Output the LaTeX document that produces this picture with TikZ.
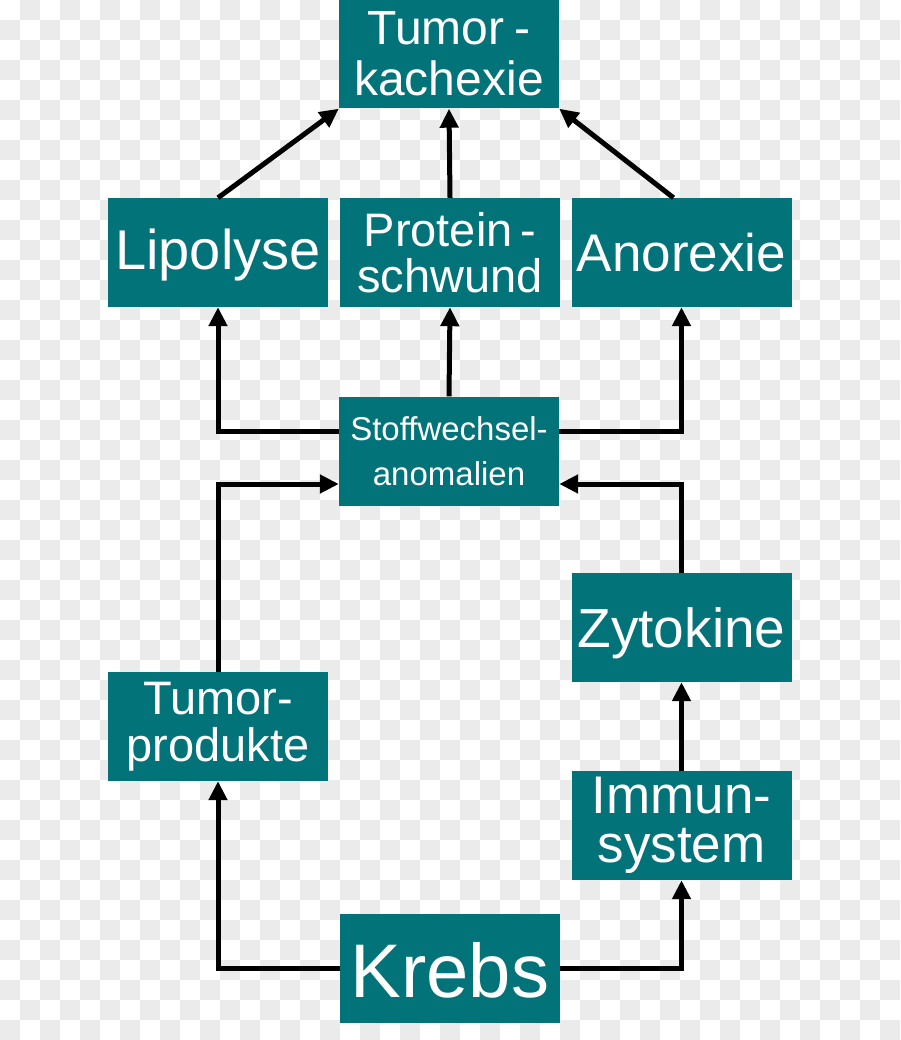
\documentclass[tikz,border=0pt]{standalone}
\usepackage{fontspec}
\setmainfont{Liberation Sans}
\usetikzlibrary{arrows.meta}
\definecolor{teal1}{RGB}{3,115,122}
\definecolor{chk}{RGB}{235,235,235}
\begin{document}
\begin{tikzpicture}[x=1pt,y=-1pt,
  box/.style={fill=teal1, text=white, minimum width=220pt, minimum height=109pt, inner sep=0pt, align=center},
  conn/.style={line width=5pt, -{Triangle[length=19pt,width=18pt]}}]
\useasboundingbox (0,0) rectangle (900,1040);
\fill[white] (0,0) rectangle (900,1040);
\foreach \j in {0,...,51}{\foreach \i in {0,...,44}{\pgfmathtruncatemacro\p{mod(\i+\j,2)}\ifnum\p=1 \fill[chk] (\i*20,\j*20) rectangle ++(20,20);\fi}}
% boxes
\node[box, font=\fontsize{48}{51}\selectfont] (kach) at (449,54) {Tumor\kern10pt-\\kachexie};
\node[box, font=\fontsize{56}{60}\selectfont, text height=45pt, text depth=10pt] (lip) at (218,252.5) {Lipolyse};
\node[box, font=\fontsize{47}{46}\selectfont] (prot) at (450,252.5) {Protein\kern8pt-\\schwund};
\node[box, font=\fontsize{53}{60}\selectfont, text height=49pt, text depth=10pt] (anor) at (681.5,252.5) {Anorexie};
\node[box, font=\fontsize{33}{45}\selectfont] (stoff) at (449,451) {Stoffwechsel-\\anomalien};
\node[box, font=\fontsize{55}{60}\selectfont, text height=49pt, text depth=10pt] (zyt) at (681.5,627.5) {Zytokine};
\node[box, font=\fontsize{47}{47}\selectfont] (tprod) at (218,726.5) {Tumor-\\produkte};
\node[box, font=\fontsize{53}{49}\selectfont] (imm) at (681.5,825.5) {Immun-\\system};
\node[box, font=\fontsize{76}{80}\selectfont, text height=67pt, text depth=10pt] (krebs) at (450,968.5) {Krebs};
% connectors
\draw[conn] (lip.north) -- (kach.south west);
\draw[conn] (prot.north) -- (kach.south);
\draw[conn] ([xshift=-8pt]anor.north) -- (kach.south east);
\draw[conn] ([yshift=20pt]stoff.west) -| (lip.south);
\draw[conn] (stoff.north) -- (prot.south);
\draw[conn] ([yshift=20pt]stoff.east) -| (anor.south);
\draw[conn] (tprod.north) |- ([yshift=-33pt]stoff.west);
\draw[conn] (zyt.north) |- ([yshift=-33pt]stoff.east);
\draw[conn] (imm.north) -- (zyt.south);
\draw[conn] (krebs.west) -| (tprod.south);
\draw[conn] (krebs.east) -| (imm.south);
\end{tikzpicture}
\end{document}
